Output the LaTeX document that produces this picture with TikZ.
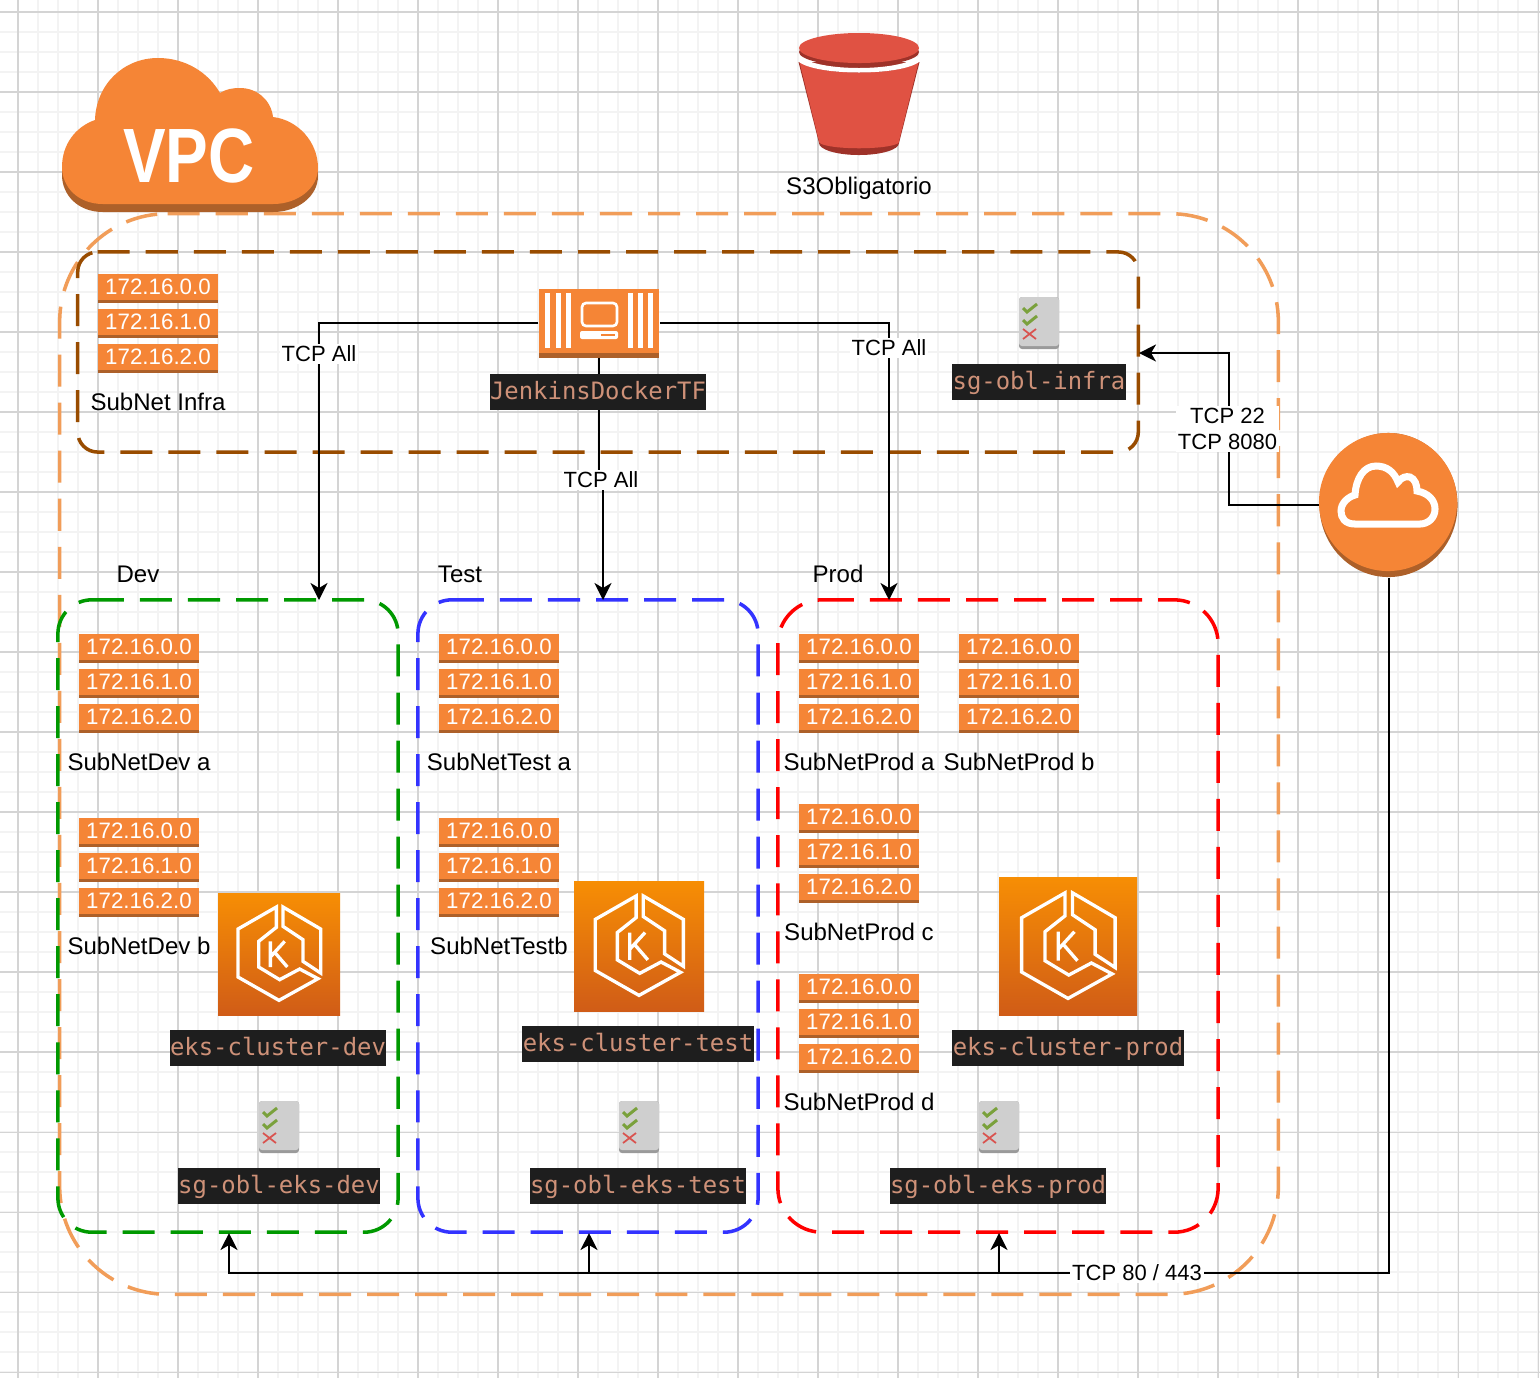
\documentclass[tikz,border=0pt]{standalone}
\usepackage{fontspec}
\setmainfont{Liberation Sans}
\newfontfamily\codefont{DejaVu Sans Mono}
\usetikzlibrary{arrows.meta,shapes.geometric}
\definecolor{gridminor}{HTML}{F3F3F3}
\definecolor{gridmajor}{HTML}{D4D4D4}
\definecolor{awsorange}{HTML}{F58536}
\definecolor{awsdark}{HTML}{AD6029}
\definecolor{vpcline}{HTML}{F19D59}
\definecolor{infraline}{HTML}{994C00}
\definecolor{devline}{HTML}{009900}
\definecolor{testline}{HTML}{3333FF}
\definecolor{prodline}{HTML}{FF0000}
\definecolor{bucketlight}{HTML}{E05243}
\definecolor{bucketdark}{HTML}{9E3229}
\definecolor{codebg}{HTML}{1E1E1E}
\definecolor{codetext}{HTML}{CE9178}
\definecolor{sgfill}{HTML}{CFCFCF}
\definecolor{sgedge}{HTML}{9A9A9A}
\definecolor{sgcheck}{HTML}{7AA13C}
\definecolor{sgcross}{HTML}{D9534F}
\definecolor{eksTop}{HTML}{F78E04}
\definecolor{eksBottom}{HTML}{D05C17}
\tikzset{
  zonebox/.style={inner sep=0pt, outer sep=0pt},
  zoneline/.style={line width=1pt, dash pattern=on 0.32cm off 0.16cm},
  conn/.style={line width=0.57pt, -{Stealth[length=0.17cm,width=0.17cm,inset=0.05cm]}},
  connplain/.style={line width=0.57pt},
  plainlabel/.style={font=\fontsize{6.83}{7.4}\selectfont, inner sep=0pt, align=center},
  edgelabel/.style={font=\fontsize{6.26}{7.4}\selectfont, align=center, fill=white, inner sep=0.02cm},
  codelabel/.style={font=\fontsize{6.8}{8}\codefont, fill=codebg, text=codetext, inner sep=0pt, text height=0.255cm, text depth=0.105cm},
  subnetrow/.style={font=\fontsize{6.35}{8}\selectfont, fill=awsorange, text=white, inner sep=0pt, minimum width=1.2cm, minimum height=0.26cm},
  ekspanel/.style={top color=eksTop, bottom color=eksBottom, inner sep=0pt},
  eksline/.style={draw=white, line width=0.95pt, line join=miter},
}
% Borde de zona, desde la esquina superior izquierda
\newcommand{\zoneborder}[3]{
  \draw[zoneline, draw=#2, rounded corners=#3cm] ([xshift=#3cm]#1.north west) -- (#1.north east) -- (#1.south east) -- (#1.south west) -- (#1.north west) -- ([xshift=#3cm]#1.north west);
}
% Icono EKS
\newcommand{\eksicon}[4]{
  \node[ekspanel, minimum size=#4*0.01cm] (#1) at (#2,#3) {};
  \begin{scope}[shift={(#2-#4/2,#3-#4/2)}, scale=#4/366]
    \draw[eksline] (175,42) -- (60,108) -- (60,252) -- (183,322) -- (300,257) -- (245,228) -- (185,260) -- (122,222) -- (122,145) -- (175,103) -- cycle;
    \draw[eksline] (195,42) -- (308,108) -- (308,240) -- (255,205) -- (255,140) -- (195,100) -- cycle;
    \draw[eksline] (157,145) -- (157,222) (157,192) -- (200,145) (170,178) -- (208,222);
  \end{scope}
}
% Icono grupo de seguridad
\newcommand{\sgicon}[2]{
  \begin{scope}[shift={(#1,#2)}]
    \fill[sgedge, rounded corners=0.03cm] (0,0) rectangle (40,52);
    \fill[sgfill, rounded corners=0.03cm] (0,0) rectangle (40,49);
    \draw[sgcheck, line width=0.85pt] (4,11) -- (8,15) -- (18,7);
    \draw[sgcheck, line width=0.85pt] (4,23) -- (8,27) -- (18,19);
    \draw[sgcross, line width=0.5pt] (4,32) -- (17,42) (4,42) -- (17,32);
  \end{scope}
}
\begin{document}
\begin{tikzpicture}[x=0.01cm, y=-0.01cm]
\useasboundingbox (0,0) rectangle (1540,1378);
% Cuadricula
\fill[white] (0,0) rectangle (1540,1378);
\foreach \x in {18,38,...,1538} \draw[gridminor, line width=0.4pt] (\x,0) -- (\x,1378);
\foreach \y in {12,32,...,1372} \draw[gridminor, line width=0.4pt] (0,\y) -- (1540,\y);
\foreach \x in {18,98,...,1538} \draw[gridmajor, line width=0.3pt] (\x,0) -- (\x,1378);
\foreach \y in {12,92,...,1372} \draw[gridmajor, line width=0.3pt] (0,\y) -- (1540,\y);
% Zonas
\node[zonebox, minimum width=12.18cm, minimum height=10.8cm] (vpc) at (669,754) {};
\node[zonebox, minimum width=10.6cm, minimum height=2cm] (infra) at (608,352) {};
\node[zonebox, minimum width=3.4cm, minimum height=6.32cm] (dev) at (228,916) {};
\node[zonebox, minimum width=3.4cm, minimum height=6.32cm] (test) at (588,916) {};
\node[zonebox, minimum width=4.4cm, minimum height=6.32cm] (prod) at (998,916) {};
\zoneborder{vpc}{vpcline}{1.08}
\zoneborder{infra}{infraline}{0.2}
\zoneborder{dev}{devline}{0.34}
\zoneborder{test}{testline}{0.34}
\zoneborder{prod}{prodline}{0.44}
% Iconos con conexiones
\node[fill=awsdark, inner sep=0pt, minimum width=1.2cm, minimum height=0.68cm] (jenkins) at (599,323) {};
\fill[awsdark] (539,352) rectangle (659,358);
\node[ellipse, fill=awsdark, inner sep=0pt, minimum width=1.38cm, minimum height=1.44cm] (igw) at (1388.5,505) {};
\coordinate (devin) at (319,600);
\coordinate (testin) at (603,600);
\coordinate (prodin) at (889,600);
\coordinate (infrain) at (1139,353);
\coordinate (devout) at (229,1233);
\coordinate (testout) at (589,1233);
\coordinate (prodout) at (999,1233);
\coordinate (downmid) at (601,480);
\coordinate (sshmid) at (1229,429);
\coordinate (webmid) at (1137,1273);
% Conexiones
\draw[conn] (jenkins.west) -| (devin);
\draw[conn] (jenkins.east) -| (prodin);
\draw[conn] (jenkins.south) |- (downmid) -| (testin);
\draw[conn] (igw.west) -| (sshmid) |- (infrain);
\draw[connplain] (igw.south) |- (webmid);
\draw[conn] (webmid) -| (devout);
\draw[conn] (webmid) -| (testout);
\draw[conn] (webmid) -| (prodout);
% Etiquetas de conexiones
\node[edgelabel] (alldev) at (319,354) {TCP All};
\node[edgelabel] (allprod) at (889,348) {TCP All};
\node[edgelabel] (alltest) at (601,480) {TCP All};
\node[edgelabel] (sshlabel) at (1227.5,429) {TCP 22\\TCP 8080};
\node[edgelabel] (weblabel) at (webmid) {TCP 80 / 443};
% Nube VPC
\def\vpccloud{(103,204) .. controls (78,204) and (62,187) .. (62,167) .. controls (62,145) and (75,127) .. (95,120) .. controls (96,85) and (123,58) .. (158,58) .. controls (185,58) and (208,72) .. (220,93) .. controls (226,89) and (233,88) .. (240,88) .. controls (257,88) and (271,100) .. (273,117) .. controls (298,120) and (318,142) .. (318,168) .. controls (318,188) and (298,204) .. (273,204) -- cycle}
\fill[awsdark, yshift=-0.08cm] \vpccloud;
\fill[awsorange] \vpccloud;
\node[text=white, inner sep=0pt, font=\fontsize{21.9}{24}\selectfont\bfseries] (vpctext) at (189,156) {\scalebox{0.83}[1]{VPC}};
% Balde S3
\fill[bucketdark] (859,143) ellipse [x radius=0.4cm, y radius=0.12cm];
\fill[bucketdark] (798.5,62) -- (819,143) -- (899,143) -- (919.5,62) -- cycle;
\fill[bucketlight] (799.5,62) -- (819.5,143) .. controls (830,150) and (888,150) .. (898.5,143) -- (918.5,62) .. controls (900,76) and (818,76) .. cycle;
\fill[white] (799,56) .. controls (818,72) and (900,72) .. (919,56) -- (919,62) .. controls (900,76) and (818,76) .. (799,62) -- cycle;
\fill[bucketdark] (859,52) ellipse [x radius=0.6cm, y radius=0.14cm];
\fill[bucketlight] (859,48) ellipse [x radius=0.6cm, y radius=0.15cm];
\node[plainlabel] (s3label) at (859,188) {S3Obligatorio};
% Icono Jenkins
\fill[awsorange] (539,289) rectangle (659,353);
\foreach \x in {545,556,566,628,638,648} \fill[white] (\x,293) rectangle ++(5,55);
\draw[white, line width=0.75pt, rounded corners=0.04cm] (582,303) rectangle (617,326);
\fill[white, rounded corners=0.02cm] (580,331) rectangle (618,339);
\fill[awsorange] (601,334) rectangle (615,335.5);
% Icono gateway
\fill[awsorange] (1388,502) circle (0.69cm);
\draw[white, line width=2pt] (1355,524) .. controls (1345,524) and (1341,518) .. (1341,511) .. controls (1341,503) and (1348,497) .. (1355,495) .. controls (1356,478) and (1364,466) .. (1376,466) .. controls (1387,466) and (1394,472) .. (1398,482) .. controls (1402,477) and (1406,476) .. (1410,477) .. controls (1415,479) and (1417,485) .. (1417,491) .. controls (1428,493) and (1435,500) .. (1435,509) .. controls (1435,518) and (1428,524) .. (1420,524) -- cycle;
% Subredes
\foreach \n/\cx/\ty/\lab/\ly in {infra/158/273/SubNet Infra/402, deva/139/633/SubNetDev a/762, devb/139/817/SubNetDev b/946, testa/499/633/SubNetTest a/762, testb/499/817/SubNetTestb/946, proda/859/633/SubNetProd a/762, prodb/1019/633/SubNetProd b/762, prodc/859/803/SubNetProd c/932, prodd/859/973/SubNetProd d/1102} {
  \foreach \r in {0,1,2} {
    \fill[awsdark] (\cx-60,\ty+35*\r+26) rectangle (\cx+60,\ty+35*\r+30);
    \node[subnetrow] (\n-\r) at (\cx,\ty+35*\r+13.5) {172.16.\r.0};
  }
  \node[plainlabel] (\n-label) at (\cx,\ly) {\lab};
}
% EKS
\eksicon{eksdev}{279}{954}{122}
\eksicon{ekstest}{639}{946}{130}
\eksicon{eksprod}{1068}{946}{138}
% Grupos de seguridad
\sgicon{1019}{297}
\sgicon{259}{1101}
\sgicon{619}{1101}
\sgicon{979}{1101}
% Etiquetas de codigo
\node[codelabel, minimum width=2.16cm] (jenkinslabel) at (598,392) {JenkinsDockerTF};
\node[codelabel, minimum width=1.74cm] (sginfra) at (1039,382) {sg-obl-infra};
\node[codelabel, minimum width=2.16cm] (clusterdev) at (278,1048) {eks-cluster-dev};
\node[codelabel, minimum width=2.32cm] (clustertest) at (638,1044) {eks-cluster-test};
\node[codelabel, minimum width=2.32cm] (clusterprod) at (1068,1048) {eks-cluster-prod};
\node[codelabel, minimum width=2.02cm] (sgdev) at (279,1186) {sg-obl-eks-dev};
\node[codelabel, minimum width=2.16cm] (sgtest) at (638,1186) {sg-obl-eks-test};
\node[codelabel, minimum width=2.16cm] (sgprod) at (998,1186) {sg-obl-eks-prod};
% Zonas: nombres
\node[plainlabel] (devname) at (138,574) {Dev};
\node[plainlabel] (testname) at (460,574) {Test};
\node[plainlabel] (prodname) at (838,574) {Prod};
\end{tikzpicture}
\end{document}
